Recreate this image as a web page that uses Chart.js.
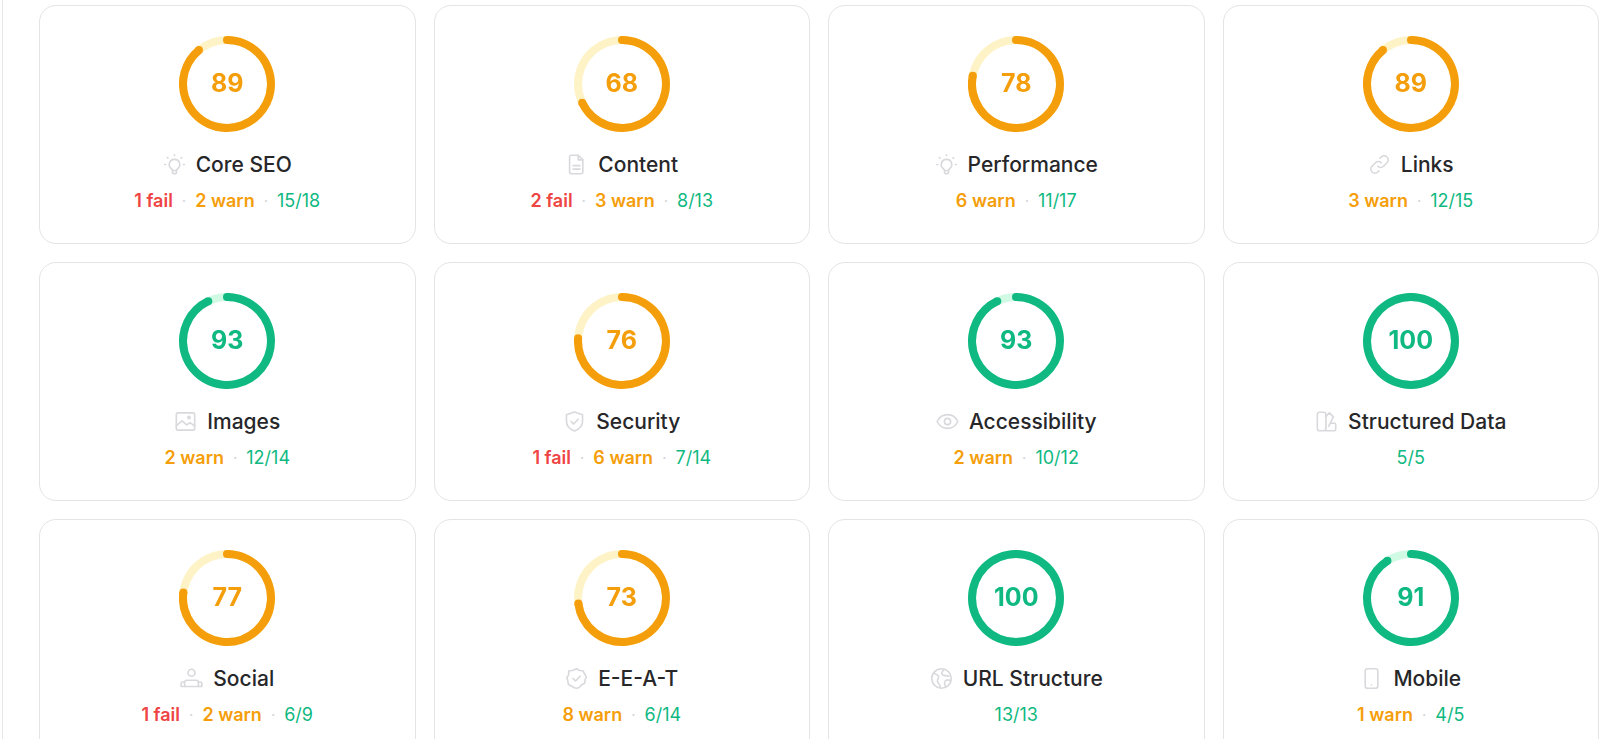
<!DOCTYPE html>
<html>
<head>
<meta charset="utf-8">
<title>Audit categories</title>
<script src="https://cdn.jsdelivr.net/npm/chart.js@4"></script>
<style>
  html, body { margin: 0; height: 739px; overflow: hidden; background: #fff; }
  body { font-family: Inter, sans-serif; position: relative; }
  .rail { position: absolute; left: 2px; top: 0; bottom: 0; width: 1px; background: #e5e7eb; }
  .grid {
    position: absolute; left: 39px; top: 5px; width: 1560px;
    display: grid; grid-template-columns: repeat(4, 1fr); column-gap: 18px; row-gap: 18px;
  }
  .card {
    box-sizing: border-box; height: 239px; border: 1px solid #e4e4e7; border-radius: 17px;
    display: flex; flex-direction: column; align-items: center; padding-top: 30px;
  }
  .ring { position: relative; width: 96px; height: 96px; }
  .ring canvas { display: block; }
  .score {
    position: absolute; inset: 0 0 1px 0; display: flex; align-items: center; justify-content: center;
    font-size: 25px; font-weight: 700; line-height: 1;
  }
  .name {
    margin-top: 18px; height: 28px; display: flex; align-items: center; gap: 10px;
    font-size: 21px; font-weight: 500; color: #27272a;
  }
  .name svg { width: 23px; height: 23px; fill: none; stroke: #d9d9dd; stroke-width: 1.4; stroke-linecap: round; stroke-linejoin: round; }
  .meta { margin-top: 11px; display: flex; align-items: center; font-size: 18px; line-height: 24px; }
  .fail { color: #ef4444; font-weight: 600; }
  .warn { color: #f59e0b; font-weight: 600; }
  .pass { color: #10b981; }
  .dot { color: #d4d4d8; margin: 0 9px; font-size: 15px; }
</style>
</head>
<body>
<div class="rail"></div>
<div class="grid" id="grid"></div>
<script>
const categories = ['Core SEO', 'Content', 'Performance', 'Links', 'Images', 'Security', 'Accessibility', 'Structured Data', 'Social', 'E-E-A-T', 'URL Structure', 'Mobile'];
const scores = [89, 68, 78, 89, 93, 76, 93, 100, 77, 73, 100, 91];
const fails = [1, 2, 0, 0, 0, 1, 0, 0, 1, 0, 0, 0];
const warns = [2, 3, 6, 3, 2, 6, 2, 0, 2, 8, 0, 1];
const passed = [15, 8, 11, 12, 12, 7, 10, 5, 6, 6, 13, 4];
const totals = [18, 13, 17, 15, 14, 14, 12, 5, 9, 14, 13, 5];

const GOOD_SCORE = 90;

const ICONS = {
  bulb: '<path d="M10 5.500a4.500 4.500 0 0 0-2.600 8.200c.5.4.8.9.8 1.500h3.600c0-.6.3-1.100.8-1.500A4.500 4.500 0 0 0 10 5.500z"/><path d="M8.300 15.500v1.200c0 .7.6 1.300 1.700 1.300s1.700-.6 1.700-1.300v-1.200"/><path d="M10 1.500v.6M3.800 4l.5.5M16.200 4l-.5.5M1.500 10h.8M17.700 10h.8"/>',
  doc: '<path d="M5.500 2h6l4 4v10.500a1.500 1.500 0 0 1-1.500 1.500H5.500A1.500 1.500 0 0 1 4 16.500v-13A1.500 1.500 0 0 1 5.500 2z"/><path d="M11.500 2v4h4M7 11h6M7 14h6"/>',
  link: '<path d="M8.500 11.500a3.500 3.500 0 0 0 5 0l3-3a3.500 3.500 0 0 0-5-5l-1 1"/><path d="M11.500 8.500a3.500 3.500 0 0 0-5 0l-3 3a3.500 3.500 0 0 0 5 5l1-1"/>',
  image: '<rect x="2" y="2.500" width="16" height="15" rx="1.500"/><path d="M2 13.500l5-4 4 3.500 3-2 4 3"/><circle cx="13" cy="6.500" r="1"/>',
  shield: '<path d="M10 1.800l7 2.400v5.300c0 4.200-3 7.200-7 8.700-4-1.500-7-4.500-7-8.700V4.200z"/><path d="M7 10l2.200 2.200L13.200 8"/>',
  eye: '<path d="M1 10c2-4 5.200-6 9-6s7 2 9 6c-2 4-5.200 6-9 6s-7-2-9-6z"/><circle cx="10" cy="10" r="2.700"/>',
  shapes: '<rect x="2" y="2" width="7.500" height="16" rx="2"/><path d="M9.500 5.500l3-3 3.500 3.500-4 8M9.500 18H17a1 1 0 0 0 1-1v-4.500a1 1 0 0 0-1-1h-3.500"/>',
  people: '<circle cx="10" cy="5" r="3"/><path d="M6 11.500h8a2 2 0 0 1 2 2V17H4v-3.500a2 2 0 0 1 2-2z"/><path d="M4 13H2.500A1.500 1.500 0 0 0 1 14.500V17h3M16 13h1.500a1.500 1.500 0 0 1 1.500 1.500V17h-3"/>',
  badge: '<path d="M10 1.500l2.600 1.500 3 .2 1.300 2.700 1.600 2.500-1 2.800-.400 3-2.700 1.300L12 18l-2 .5L8 18l-2.400-1.500-2.700-1.300-.400-3-1-2.800 1.600-2.500L3.400 3.200l3-.2z"/><path d="M7 10l2.200 2.200 4-4.200"/>',
  globe: '<circle cx="10" cy="10" r="8.500"/><path d="M3 5.500c2 .5 4 1 4.500 3s-1.500 2-1 4 2 2 2.500 5M12 2c-1 2-2.500 3-1.500 4.500s4 .5 6 1.500M18 12c-2-1-4-1-5 .5s0 3 .5 4.500"/>',
  phone: '<rect x="4.500" y="1.500" width="11" height="17" rx="2"/><path d="M10 15.500h.01"/>'
};
const iconNames = ['bulb', 'doc', 'bulb', 'link', 'image', 'shield', 'eye', 'shapes', 'people', 'badge', 'globe', 'phone'];

// full pale ring under the arc, then round ends on the score arc
const ringPlugin = {
  id: 'ringPlugin',
  beforeDatasetsDraw(chart, args, opts) {
    const arc = chart.getDatasetMeta(0).data[0];
    const { ctx } = chart;
    ctx.save();
    ctx.beginPath();
    ctx.arc(arc.x, arc.y, arc.outerRadius, 0, Math.PI * 2);
    ctx.arc(arc.x, arc.y, arc.innerRadius, Math.PI * 2, 0, true);
    ctx.closePath();
    ctx.fillStyle = opts.track;
    ctx.fill();
    ctx.restore();
  },
  afterDatasetsDraw(chart, args, opts) {
    const arc = chart.getDatasetMeta(0).data[0];
    const { ctx } = chart;
    const mid = (arc.outerRadius + arc.innerRadius) / 2;
    const cap = (arc.outerRadius - arc.innerRadius) / 2;
    ctx.save();
    ctx.fillStyle = opts.color;
    [arc.startAngle, arc.endAngle].forEach(a => {
      ctx.beginPath();
      ctx.arc(arc.x + Math.cos(a) * mid, arc.y + Math.sin(a) * mid, cap, 0, Math.PI * 2);
      ctx.fill();
    });
    ctx.restore();
  }
};

function metaHtml(i) {
  const parts = [];
  if (fails[i]) parts.push(`<span class="fail">${fails[i]} fail</span>`);
  if (warns[i]) parts.push(`<span class="warn">${warns[i]} warn</span>`);
  parts.push(`<span class="pass">${passed[i]}/${totals[i]}</span>`);
  return parts.join('<span class="dot">·</span>');
}

const grid = document.getElementById('grid');

categories.forEach((name, i) => {
  const good = scores[i] >= GOOD_SCORE;
  const color = good ? '#10b981' : '#f59e0b';
  const track = good ? '#d1fae5' : '#fef3c7';

  const card = document.createElement('div');
  card.className = 'card';
  card.innerHTML = `
    <div class="ring"><canvas width="96" height="96"></canvas><div class="score" style="color:${color}">${scores[i]}</div></div>
    <div class="name"><svg viewBox="0 0 20 20">${ICONS[iconNames[i]]}</svg><span>${name}</span></div>
    <div class="meta">${metaHtml(i)}</div>`;
  grid.appendChild(card);

  new Chart(card.querySelector('canvas'), {
    type: 'doughnut',
    data: {
      datasets: [{
        data: [scores[i], 100 - scores[i]],
        backgroundColor: [color, 'rgba(0,0,0,0)'],
        borderWidth: 0
      }]
    },
    options: {
      responsive: false,
      animation: false,
      cutout: '83.3%',
      plugins: {
        legend: { display: false },
        tooltip: { enabled: false },
        ringPlugin: { color, track }
      }
    },
    plugins: [ringPlugin]
  });
});
</script>
</body>
</html>
